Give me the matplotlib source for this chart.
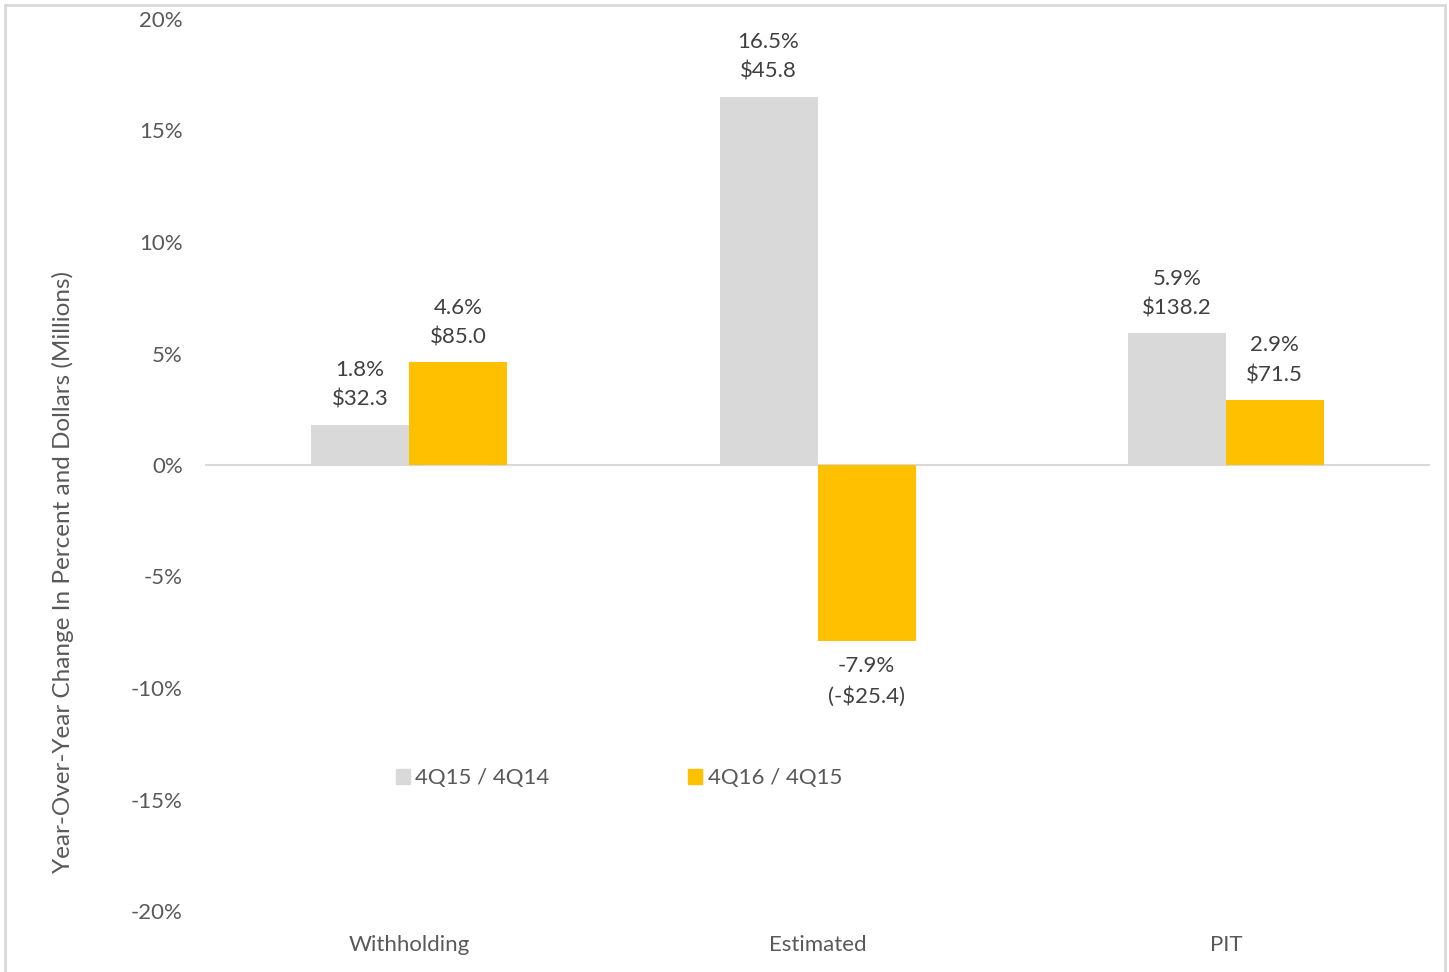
import matplotlib.pyplot as plt
import numpy as np
from matplotlib.patches import Patch, Rectangle

categories = ["Withholding", "Estimated", "PIT"]
series_names = ["4Q15 / 4Q14", "4Q16 / 4Q15"]
pct_4q15 = [1.8, 16.5, 5.9]
pct_4q16 = [4.6, -7.9, 2.9]
dollars_4q15 = ["$32.3", "$45.8", "$138.2"]
dollars_4q16 = ["$85.0", "(-$25.4)", "$71.5"]
y_ticks = [-20, -15, -10, -5, 0, 5, 10, 15, 20]

GRAY = "#D9D9D9"
GOLD = "#FFC000"
TEXT = "#595959"
LABEL = "#404040"
FS = 16

plt.rcParams["font.family"] = ["Lato", "DejaVu Sans"]

fig = plt.figure(figsize=(14.49, 9.72), dpi=100)
ax = fig.add_axes([205 / 1449, 1 - 911 / 972, 1225 / 1449, 892 / 972])

x = np.arange(len(categories))
w = 0.24
ax.bar(x - w / 2, pct_4q15, w, color=GRAY, zorder=2)
ax.bar(x + w / 2, pct_4q16, w, color=GOLD, zorder=2)

# value labels: percent on top, dollars below
for xs, vals, dol in [(x - w / 2, pct_4q15, dollars_4q15), (x + w / 2, pct_4q16, dollars_4q16)]:
    for xi, v, d in zip(xs, vals, dol):
        txt = f"{v:.1f}%\n{d}"
        above = v >= 0
        ax.annotate(txt, (xi, v), xytext=(0, 11 if above else -11),
                    textcoords="offset points", ha="center",
                    va="bottom" if above else "top", fontsize=FS,
                    color=LABEL, linespacing=1.6)

ax.axhline(0, color=GRAY, lw=1.5, zorder=1)
ax.set_xlim(-0.5, 2.5)
ax.set_ylim(-20, 20)
ax.set_yticks(y_ticks)
ax.set_yticklabels([f"{t}%" for t in y_ticks])
ax.set_xticks(x)
ax.set_xticklabels(categories)
ax.tick_params(axis="both", length=0, labelsize=FS, labelcolor=TEXT)
ax.tick_params(axis="y", pad=16)
ax.tick_params(axis="x", pad=17)
for s in ax.spines.values():
    s.set_visible(False)

fig.text(63 / 1449, 1 - 572 / 972, "Year-Over-Year Change In Percent and Dollars (Millions)",
         rotation=90, ha="center", va="center", fontsize=17.5, color=TEXT)

handles = [Patch(color=GRAY), Patch(color=GOLD)]
ax.legend(handles, series_names, loc="center", bbox_to_anchor=(0.338, 0.149),
          ncol=2, frameon=False, fontsize=FS, labelcolor=TEXT,
          handlelength=0.63, handleheight=0.63, handletextpad=0.25,
          columnspacing=6.25)

# outer chart border
fig.patches.append(Rectangle((5 / 1449, -0.01), 1440 / 1449, 1 - 5 / 972 + 0.01,
                             transform=fig.transFigure, fill=False,
                             edgecolor=GRAY, lw=2))

fig.savefig("out.png", dpi=100)
